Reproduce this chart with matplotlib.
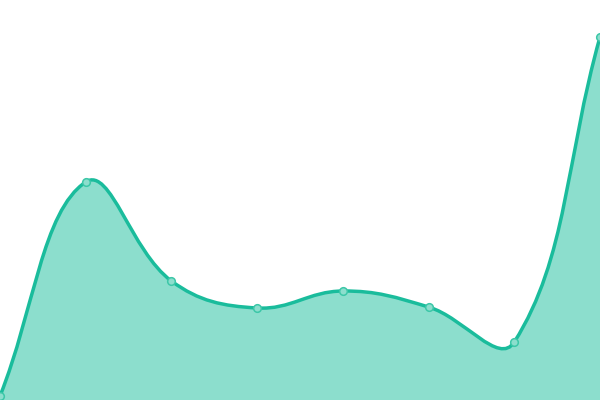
import matplotlib
matplotlib.use("Agg")
import matplotlib.pyplot as plt
from matplotlib.path import Path
from matplotlib.patches import PathPatch
import numpy as np

x_vals = [0, 1, 2, 3, 4, 5, 6, 7]
y_vals = [4, 218, 119, 92, 109, 93, 58, 363]

line_color = "#1abc9c"
fill_color = "#8cdecd"
tension = 0.4

fig = plt.figure(figsize=(6, 4), dpi=100)
ax = fig.add_axes([0, 0, 1, 1])
ax.set_xlim(0, 7)
ax.set_ylim(0, 400)
ax.axis("off")

# Chart.js-style spline (tension 0.4) computed in pixel-proportional space
sx = 600.0 / 7.0
pts = np.column_stack([np.array(x_vals) * sx, y_vals]).astype(float)
n = len(pts)
cp_in = [None] * n
cp_out = [None] * n
for i in range(n):
    cur = pts[i]
    prev = pts[i - 1] if i > 0 else cur
    nxt = pts[i + 1] if i < n - 1 else cur
    d01 = np.hypot(*(cur - prev))
    d12 = np.hypot(*(nxt - cur))
    tot = d01 + d12
    fa = tension * d01 / tot if tot else 0
    fb = tension * d12 / tot if tot else 0
    v = nxt - prev
    cp_in[i] = cur - fa * v
    cp_out[i] = cur + fb * v

def to_data(p):
    return (p[0] / sx, p[1])

verts = [to_data(pts[0])]
codes = [Path.MOVETO]
for i in range(n - 1):
    verts += [to_data(cp_out[i]), to_data(cp_in[i + 1]), to_data(pts[i + 1])]
    codes += [Path.CURVE4] * 3

line_path = Path(verts, codes)
fill_verts = verts + [(x_vals[-1], 0), (x_vals[0], 0), verts[0]]
fill_codes = codes + [Path.LINETO, Path.LINETO, Path.CLOSEPOLY]
ax.add_patch(PathPatch(Path(fill_verts, fill_codes), facecolor=fill_color,
                       edgecolor="none", zorder=1))
ax.add_patch(PathPatch(line_path, facecolor="none", edgecolor=line_color,
                       linewidth=2.5, zorder=2))
ax.plot(x_vals, y_vals, linestyle="none", marker="o", markersize=5.5,
        markerfacecolor=fill_color, markeredgecolor="#3cc7a8",
        markeredgewidth=1.1, zorder=3)

fig.savefig("out.png", dpi=100)
